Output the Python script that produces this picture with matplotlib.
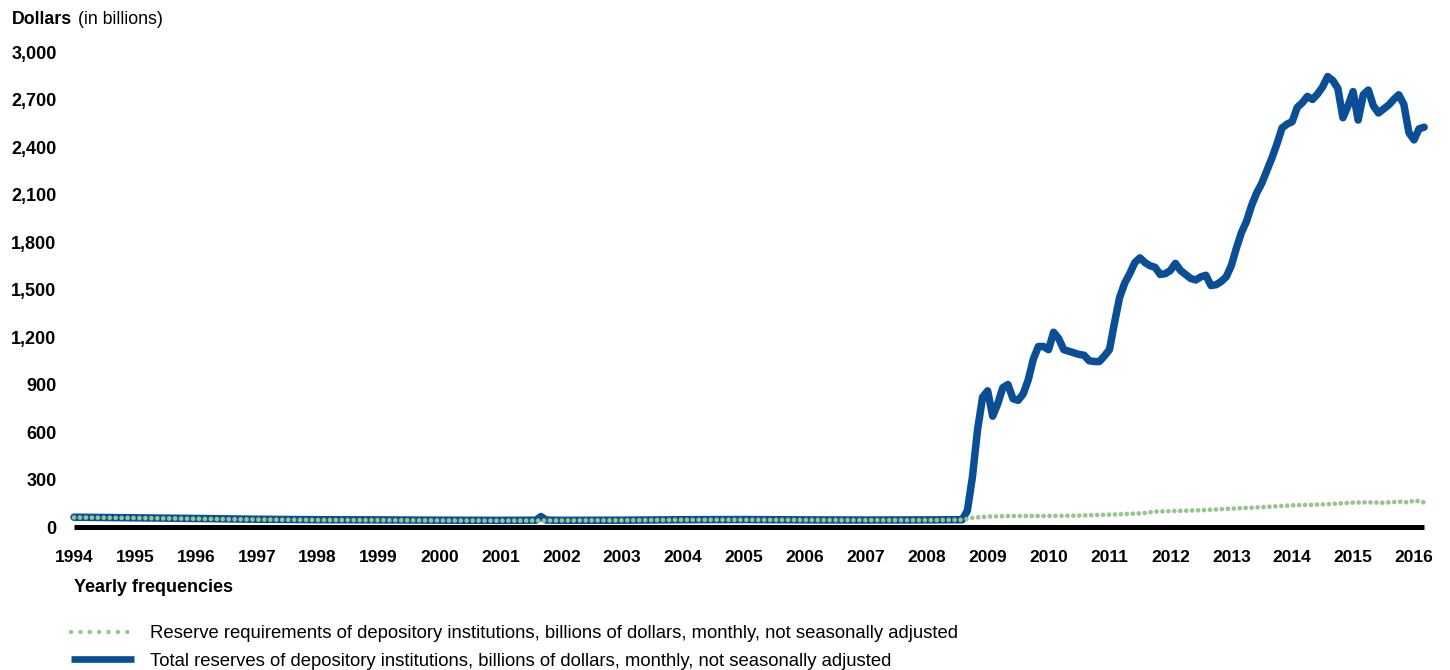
import matplotlib
matplotlib.use("Agg")
import matplotlib.pyplot as plt
from matplotlib.lines import Line2D

plt.rcParams['font.family'] = ['Liberation Sans', 'DejaVu Sans']

# ---------------- data (decimal years, billions of dollars) ----------------
total_dates = [1994.0, 1995.0, 1996.0, 1997.0, 1998.0, 1999.0, 2000.0, 2001.0,
               2001.583, 2001.667, 2001.75, 2002.0, 2003.0, 2004.0, 2005.0, 2006.0,
               2007.0, 2008.0, 2008.583,
               2008.667, 2008.75, 2008.833, 2008.917,
               2009.0, 2009.083, 2009.167, 2009.25, 2009.333, 2009.417, 2009.5,
               2009.583, 2009.667, 2009.75, 2009.833, 2009.917,
               2010.0, 2010.083, 2010.167, 2010.25, 2010.333, 2010.417, 2010.5,
               2010.583, 2010.667, 2010.75, 2010.833, 2010.917,
               2011.0, 2011.083, 2011.167, 2011.25, 2011.333, 2011.417, 2011.5,
               2011.583, 2011.667, 2011.75, 2011.833, 2011.917,
               2012.0, 2012.083, 2012.167, 2012.25, 2012.333, 2012.417, 2012.5,
               2012.583, 2012.667, 2012.75, 2012.833, 2012.917,
               2013.0, 2013.083, 2013.167, 2013.25, 2013.333, 2013.417, 2013.5,
               2013.583, 2013.667, 2013.75, 2013.833, 2013.917,
               2014.0, 2014.083, 2014.167, 2014.25, 2014.333, 2014.417, 2014.5,
               2014.583, 2014.667, 2014.75, 2014.833, 2014.917,
               2015.0, 2015.083, 2015.167, 2015.25, 2015.333, 2015.417, 2015.5,
               2015.583, 2015.667, 2015.75, 2015.833, 2015.917,
               2016.0, 2016.083, 2016.167]
total_values = [62, 58, 54, 49, 46, 45, 43, 42,
                43, 66, 44, 42, 43, 46, 47, 45,
                44, 45, 46,
                103, 315, 610, 820,
                860, 700, 780, 880, 900, 810, 800,
                840, 930, 1060, 1140, 1140,
                1120, 1230, 1190, 1120, 1110, 1100, 1090,
                1085, 1050, 1045, 1045, 1080,
                1120, 1290, 1450, 1540, 1600, 1670, 1700,
                1670, 1650, 1640, 1595, 1600,
                1620, 1665, 1620, 1595, 1570, 1560, 1580,
                1590, 1525, 1530, 1550, 1580,
                1650, 1760, 1860, 1930, 2030, 2110, 2170,
                2250, 2330, 2420, 2520, 2545,
                2560, 2650, 2680, 2720, 2700, 2735, 2780,
                2845, 2820, 2770, 2585, 2660,
                2750, 2570, 2730, 2760, 2660, 2615, 2640,
                2665, 2700, 2730, 2670, 2490,
                2445, 2515, 2525]

req_dates = [1994.0, 1995.0, 1996.0, 1997.0, 1998.0, 1999.0, 2000.0, 2001.0,
             2002.0, 2003.0, 2004.0, 2005.0, 2006.0, 2007.0, 2008.0, 2008.583,
             2008.75, 2009.0, 2009.25, 2009.5, 2010.0, 2010.5, 2010.75,
             2011.0, 2011.5, 2011.75, 2012.0, 2012.5, 2013.0, 2013.5,
             2014.0, 2014.5, 2015.0, 2015.25, 2015.5, 2015.75, 2015.917,
             2016.0, 2016.083, 2016.167]
req_values = [60, 57, 52, 47, 44, 43, 41, 40,
              41, 42, 45, 45, 44, 43, 43, 45,
              58, 66, 68, 70, 70, 72, 75,
              78, 86, 97, 100, 106, 116, 125,
              137, 142, 154, 156, 153, 160, 155,
              168, 162, 155]

year_ticks = list(range(1994, 2017))
year_labels = [str(y) for y in year_ticks]
y_ticks = [0, 300, 600, 900, 1200, 1500, 1800, 2100, 2400, 2700, 3000]
y_labels = ['0', '300', '600', '900', '1,200', '1,500', '1,800', '2,100',
            '2,400', '2,700', '3,000']

series_labels = [
    "Reserve requirements of depository institutions, billions of dollars, monthly, not seasonally adjusted",
    "Total reserves of depository institutions, billions of dollars, monthly, not seasonally adjusted",
]

# ---------------- styling ----------------
BLUE = '#0a4f96'
GREEN = '#96c58e'
W, H = 1450, 670

fig = plt.figure(figsize=(W / 100, H / 100), dpi=100)
# axes: px 60..1440 horizontally, px 40..540 vertically (from top)
ax = fig.add_axes([60 / W, (H - 540) / H, 1380 / W, 500 / H])

x0 = 1994 - 14 / 60.909
x1 = 1994 + 1366 / 60.909
ax.set_xlim(x0, x1)
ax.set_ylim((527 - 540) / 0.15833, (527 - 40) / 0.15833)

ax.plot([total_dates[0], total_dates[-1]], [0, 0], color='black', lw=3.6,
        solid_capstyle='butt', zorder=1)
ax.plot(total_dates, total_values, color=BLUE, lw=5.4, solid_joinstyle='round',
        solid_capstyle='round', zorder=2)
ax.plot(req_dates, req_values, color=GREEN, lw=3.4, linestyle=(0, (0.01, 1.25)),
        dash_capstyle='round', zorder=3)

for s in ax.spines.values():
    s.set_visible(False)
ax.set_xticks(year_ticks)
ax.set_xticklabels(year_labels, fontsize=12.5, fontweight='bold')
ax.set_yticks(y_ticks)
ax.set_yticklabels(y_labels, fontsize=13, fontweight='bold')
ax.tick_params(axis='both', length=0)
ax.tick_params(axis='y', pad=2.5)
ax.tick_params(axis='x', pad=7)

# title
fig.text(12 / W, 1 - 20 / H, 'Dollars', fontsize=12.8, fontweight='bold',
         ha='left', va='center')
fig.text(78 / W, 1 - 20 / H, '(in billions)', fontsize=12.8,
         ha='left', va='center')

# frequency note
fig.text(74 / W, 1 - 587 / H, 'Yearly frequencies', fontsize=13, fontweight='bold',
         ha='left', va='center')

# legend
h_req = Line2D([], [], color=GREEN, lw=3.2, linestyle=(0, (0.01, 2.1)),
               dash_capstyle='round')
h_tot = Line2D([], [], color=BLUE, lw=4.8, solid_capstyle='butt')
fig.legend([h_req, h_tot], series_labels, loc='upper left',
           bbox_to_anchor=(71 / W, 1 - 625 / H), frameon=False,
           fontsize=13.3, handlelength=3.4, handletextpad=0.9,
           labelspacing=0.58, borderpad=0, borderaxespad=0)

fig.savefig('out.png', dpi=100)
